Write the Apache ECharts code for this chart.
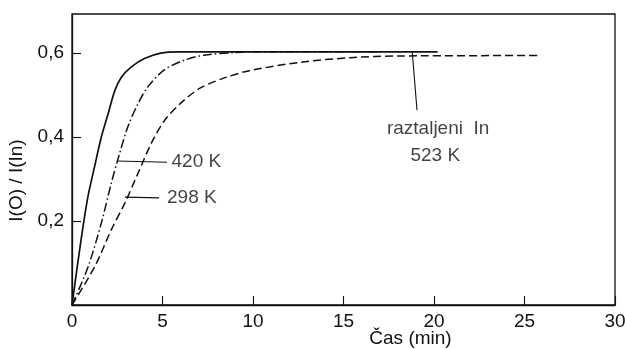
<!DOCTYPE html>
<html>
<head>
<meta charset="utf-8">
<script src="https://cdn.jsdelivr.net/npm/echarts@6/dist/echarts.min.js"></script>
<style>html,body{margin:0;padding:0;background:#fff}#c{width:625px;height:349px}</style>
</head>
<body>
<div id="c"></div>
<script>
// time (min), I(O)/I(In)
const curve523 = [[0,0],[0.5,0.155],[0.88,0.258],[1.25,0.33],[1.62,0.40],[2.0,0.456],[2.36,0.51],[2.72,0.542],[3.28,0.567],[4.0,0.587],[4.9,0.600],[5.9,0.603],[10,0.603],[15,0.603],[20.2,0.603]];
const curve420 = [[0,0],[0.88,0.09],[1.62,0.195],[2.17,0.29],[2.63,0.361],[3.09,0.425],[3.65,0.48],[4.2,0.52],[5.1,0.56],[6.2,0.583],[7.3,0.595],[8.9,0.601],[10,0.603],[17,0.603]];
const curve298 = [[0,0],[1.25,0.091],[2.17,0.179],[2.91,0.242],[3.65,0.314],[4.38,0.385],[5.12,0.44],[6.04,0.482],[7.1,0.517],[8.5,0.542],[9.8,0.558],[12.6,0.578],[15.4,0.589],[18.1,0.593],[25.8,0.594]];
const xTicks = [0,5,10,15,20,25,30];
const yTicks = [0.2,0.4,0.6];
const leader420 = [[2.49,0.343],[5.25,0.340]];
const leader298 = [[2.93,0.257],[4.81,0.255]];
const leaderIn = [[18.8,0.602],[19.06,0.464]];
const labels = [
  {name:'420 K', value:[5.5,0.340]},
  {name:'298 K', value:[5.25,0.256]},
  {name:'raztaljeni  In', value:[17.4,0.419]},
  {name:'523 K', value:[18.7,0.355]}
];
const xName = 'Čas (min)';
const yName = 'I(O) / I(In)';

const FONT = '"Liberation Sans", Arial, sans-serif';
const C = '#111';
const chart = echarts.init(document.getElementById('c'), null, {renderer:'canvas'});
function line(data, type, w){
  return {type:'line', data:data, showSymbol:false, symbol:'none', smooth:0.3,
    lineStyle:{color:C, width:w, type:type}, silent:true, z:3};
}
function leader(data){
  return {type:'line', data:data, showSymbol:false, symbol:'none', lineStyle:{color:C, width:1.1}, silent:true, z:4};
}
chart.setOption({
  animation:false,
  backgroundColor:'#fff',
  grid:{left:72, right:10, top:14, bottom:44, containLabel:false, outerBoundsMode:'none',
    show:true, borderColor:C, borderWidth:1.3, backgroundColor:'transparent'},
  xAxis:{type:'value', min:0, max:30, interval:5,
    name:xName, nameLocation:'middle', nameGap:24, nameMoveOverlap:false,
    nameTextStyle:{color:C, fontSize:19, fontFamily:FONT, padding:[0,0,0,134]},
    axisLine:{show:true, lineStyle:{color:C, width:1.3}},
    axisTick:{show:true, inside:true, length:9, lineStyle:{color:C, width:1.1}},
    axisLabel:{color:C, fontSize:19, fontFamily:FONT, margin:7,
      formatter:v=> xTicks.indexOf(v)>=0 ? String(v) : ''},
    splitLine:{show:false}},
  yAxis:{type:'value', min:0, max:0.693, interval:0.2,
    name:yName, nameLocation:'middle', nameGap:46, nameRotate:90, nameMoveOverlap:false,
    nameTextStyle:{color:C, fontSize:19, fontFamily:FONT, padding:[0,42,0,0]},
    axisLine:{show:true, lineStyle:{color:C, width:1.3}},
    axisTick:{show:true, inside:true, length:9, lineStyle:{color:C, width:1.1}},
    axisLabel:{color:C, fontSize:19, fontFamily:FONT, margin:8, showMaxLabel:false,
      formatter:v=> yTicks.some(t=>Math.abs(t-v)<1e-6) ? v.toFixed(1).replace('.',',') : ''},
    splitLine:{show:false}},
  series:[
    line(curve523, 'solid', 1.7),
    line(curve420, [9,3,1.5,3], 1.5),
    line(curve298, [8,4], 1.5),
    leader(leader420),
    leader(leader298),
    leader(leaderIn),
    {type:'scatter', data:labels, symbolSize:0, silent:true, z:5,
      label:{show:true, position:'right', distance:0, formatter:p=>p.name,
        color:C, fontSize:19, fontFamily:FONT}}
  ]
});
</script>
</body>
</html>
